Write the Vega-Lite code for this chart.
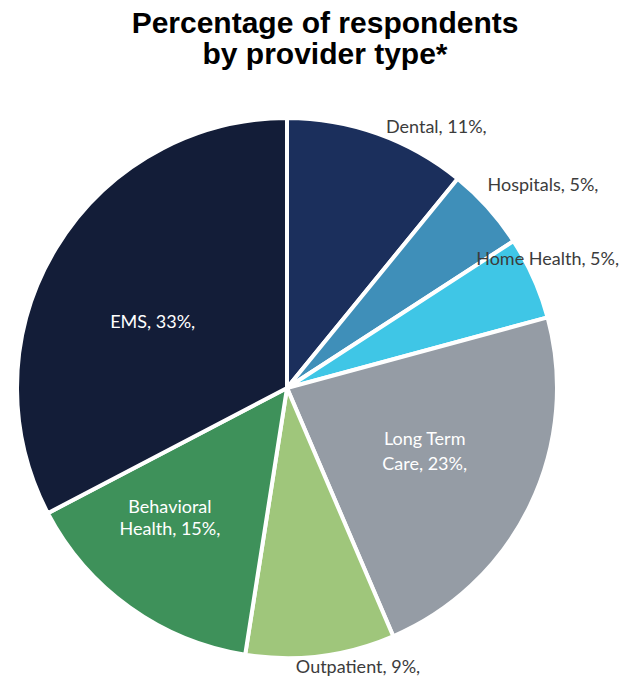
{
  "$schema": "https://vega.github.io/schema/vega-lite/v6.json",
  "width": 574,
  "height": 576,
  "autosize": {"type": "none"},
  "padding": {"left": 0, "top": 100, "right": 57, "bottom": 2},
  "background": "white",
  "title": {
    "text": ["Percentage of respondents", "by provider type*"],
    "font": "Liberation Sans",
    "fontSize": 30,
    "fontWeight": "bold",
    "color": "#000000",
    "lineHeight": 31,
    "anchor": "middle",
    "frame": "group",
    "dx": 38,
    "offset": 25
  },
  "data": {
    "values": [
      {"cat": "Dental", "pct": 11, "order": 1, "label": "Dental, 11%,"},
      {"cat": "Hospitals", "pct": 5, "order": 2, "label": "Hospitals, 5%,"},
      {"cat": "Home Health", "pct": 5, "order": 3, "label": "Home Health, 5%,"},
      {"cat": "Long Term Care", "pct": 23, "order": 4, "label": "Long Term\nCare, 23%,"},
      {"cat": "Outpatient", "pct": 9, "order": 5, "label": "Outpatient, 9%,"},
      {"cat": "Behavioral Health", "pct": 15, "order": 6, "label": "Behavioral\nHealth, 15%,"},
      {"cat": "EMS", "pct": 33, "order": 7, "label": "EMS, 33%,"}
    ]
  },
  "encoding": {
    "theta": {"field": "pct", "type": "quantitative", "stack": true},
    "order": {"field": "order", "type": "quantitative"}
  },
  "layer": [
    {
      "mark": {"type": "arc", "outerRadius": 270, "stroke": "white", "strokeWidth": 4},
      "encoding": {
        "color": {
          "field": "cat",
          "type": "nominal",
          "legend": null,
          "scale": {
            "domain": ["Dental", "Hospitals", "Home Health", "Long Term Care", "Outpatient", "Behavioral Health", "EMS"],
            "range": ["#1b2f5c", "#3f8fb9", "#3fc6e6", "#959ca5", "#9fc67b", "#3e915a", "#131d38"]
          }
        }
      }
    },
    {
      "mark": {"type": "text", "radius": 150, "dx": -6, "dy": 13, "align": "center", "baseline": "middle", "font": "Lato", "fontSize": 18, "color": "white"},
      "encoding": {
        "text": {"condition": {"test": "datum.cat === 'EMS'", "field": "label"}, "value": ""}
      }
    },
    {
      "mark": {"type": "text", "radius": 153, "dy": -15, "align": "center", "baseline": "middle", "font": "Lato", "fontSize": 18, "color": "white", "lineBreak": "\n", "lineHeight": 25},
      "encoding": {
        "text": {"condition": {"test": "datum.cat === 'Long Term Care'", "field": "label"}, "value": ""}
      }
    },
    {
      "mark": {"type": "text", "radius": 170, "dx": -18, "dy": -18, "align": "center", "baseline": "middle", "font": "Lato", "fontSize": 18, "color": "white", "lineBreak": "\n", "lineHeight": 22},
      "encoding": {
        "text": {"condition": {"test": "datum.cat === 'Behavioral Health'", "field": "label"}, "value": ""}
      }
    },
    {
      "mark": {"type": "text", "radius": 280, "dx": 5, "dy": 4, "align": "left", "baseline": "middle", "font": "Lato", "fontSize": 18, "color": "#3c3c3c"},
      "encoding": {
        "text": {"condition": {"test": "datum.cat === 'Dental'", "field": "label"}, "value": ""}
      }
    },
    {
      "mark": {"type": "text", "radius": 280, "dx": -8, "dy": -15, "align": "left", "baseline": "middle", "font": "Lato", "fontSize": 18, "color": "#3c3c3c"},
      "encoding": {
        "text": {"condition": {"test": "datum.cat === 'Hospitals'", "field": "label"}, "value": ""}
      }
    },
    {
      "mark": {"type": "text", "radius": 292, "dx": -6, "dy": -9, "align": "center", "baseline": "middle", "font": "Lato", "fontSize": 18, "color": "#3c3c3c"},
      "encoding": {
        "text": {"condition": {"test": "datum.cat === 'Home Health'", "field": "label"}, "value": ""}
      }
    },
    {
      "mark": {"type": "text", "radius": 282, "dx": 36, "align": "center", "baseline": "middle", "font": "Lato", "fontSize": 18, "color": "#3c3c3c"},
      "encoding": {
        "text": {"condition": {"test": "datum.cat === 'Outpatient'", "field": "label"}, "value": ""}
      }
    }
  ]
}
